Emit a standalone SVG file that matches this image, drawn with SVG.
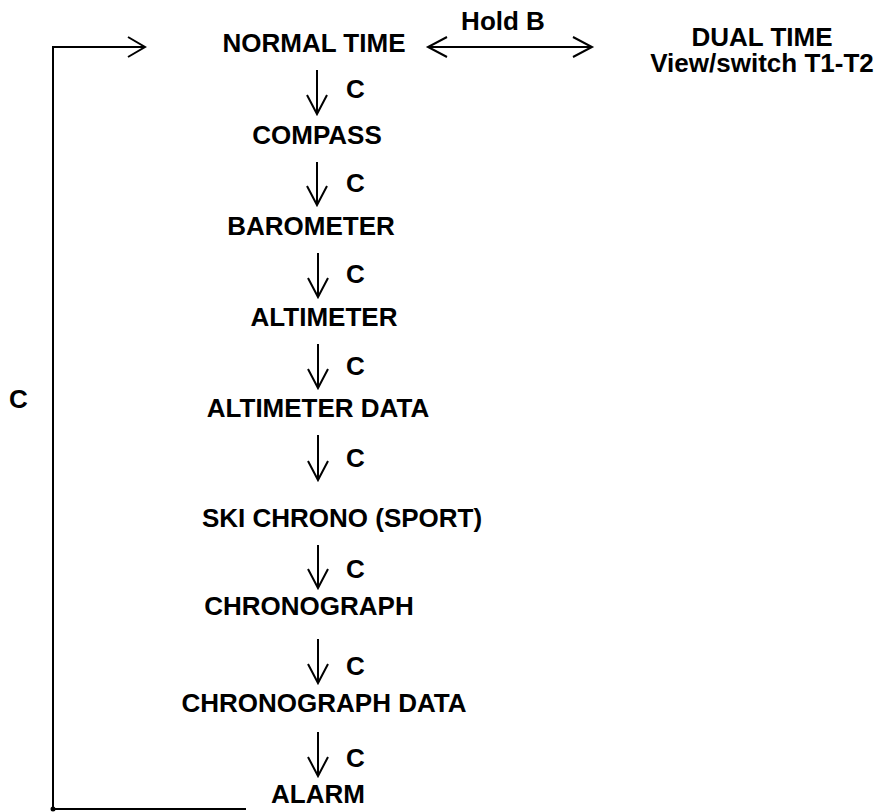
<svg xmlns="http://www.w3.org/2000/svg" width="883" height="812" viewBox="0 0 883 812">
<style>
text{font-family:"Liberation Sans",Arial,sans-serif;font-weight:bold;font-size:26px;fill:#000}
.n{text-anchor:middle}
.l{stroke:#000;stroke-width:2;fill:none}
</style>
<rect width="883" height="812" fill="#fff"/>
<g id="connectors">
<path class="l" d="M53,809 V47 H145 M128,37 L145,47 L128,57"/>
<path class="l" d="M53,809 H246"/>
<circle cx="53" cy="809" r="2.5" fill="#000"/>
<path class="l" d="M428,47 H592 M447,37 L428,47 L447,57 M573,37 L592,47 L573,57"/>
<text x="503" y="30" class="n">Hold B</text>
<text x="9" y="408">C</text>
<g id="a1"><path class="l" d="M317,70 V114 M307,95 L317,114 L327,95"/><text x="346" y="98">C</text></g>
<g id="a2"><path class="l" d="M317,162 V205 M307,186 L317,205 L327,186"/><text x="346" y="192">C</text></g>
<g id="a3"><path class="l" d="M318,253 V297 M308,278 L318,297 L328,278"/><text x="346" y="283">C</text></g>
<g id="a4"><path class="l" d="M318,344 V388 M308,369 L318,388 L328,369"/><text x="346" y="375">C</text></g>
<g id="a5"><path class="l" d="M318,435 V480 M308,461 L318,480 L328,461"/><text x="346" y="467">C</text></g>
<g id="a6"><path class="l" d="M318,545 V588 M308,569 L318,588 L328,569"/><text x="346" y="578">C</text></g>
<g id="a7"><path class="l" d="M318,639 V683 M308,664 L318,683 L328,664"/><text x="346" y="675">C</text></g>
<g id="a8"><path class="l" d="M318,732 V776 M308,757 L318,776 L328,757"/><text x="346" y="767">C</text></g>
</g>
<g id="normal-time"><text x="314" y="52" class="n">NORMAL TIME</text></g>
<g id="dual-time"><text x="762" y="46" class="n">DUAL TIME</text><text x="762" y="72" class="n">View/switch T1-T2</text></g>
<g id="compass"><text x="317" y="144" class="n">COMPASS</text></g>
<g id="barometer"><text x="311" y="235" class="n">BAROMETER</text></g>
<g id="altimeter"><text x="324" y="326" class="n">ALTIMETER</text></g>
<g id="altimeter-data"><text x="318" y="417" class="n">ALTIMETER DATA</text></g>
<g id="ski-chrono"><text x="342" y="527" class="n">SKI CHRONO (SPORT)</text></g>
<g id="chronograph"><text x="309" y="615" class="n">CHRONOGRAPH</text></g>
<g id="chronograph-data"><text x="324" y="712" class="n">CHRONOGRAPH DATA</text></g>
<g id="alarm"><text x="318" y="803" class="n">ALARM</text></g>
</svg>
